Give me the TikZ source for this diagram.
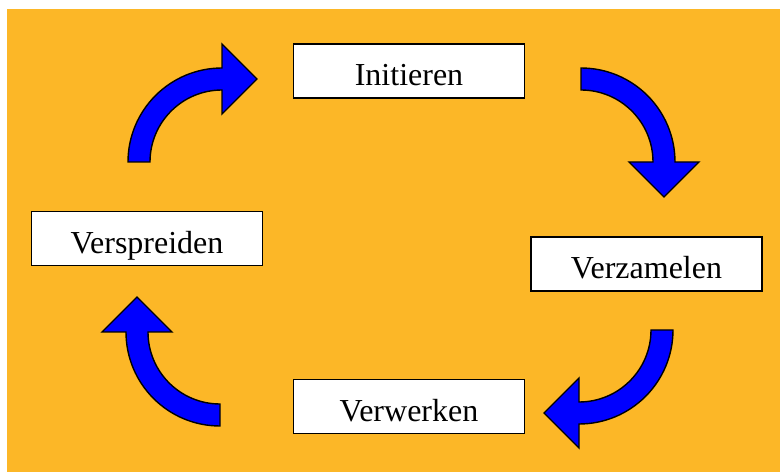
\documentclass[tikz,border=0pt]{standalone}
\usepackage{fontspec}
\setmainfont{Liberation Serif}
\usetikzlibrary{positioning}
\definecolor{CycleOrange}{RGB}{252,183,39}
\definecolor{CycleBlue}{RGB}{0,0,255}
\tikzset{
    stagebox/.style={rectangle, draw=black, fill=white, line width=1.6pt, minimum width=231pt, minimum height=54pt, inner sep=0pt, text height=29.5pt, text depth=0pt, font=\fontsize{32}{37}\selectfont},
    arrowbody/.style={fill=CycleBlue, draw=black, line width=1.4pt, line join=miter},
    % curved block arrow, drawn for the upper left quarter
    pics/turnarrow/.style={code={
        \filldraw[arrowbody] (180:94) arc[start angle=180, end angle=90, radius=94]
            -- (0,118) -- (35,83) -- (0,48) -- (0,72)
            arc[start angle=90, end angle=180, radius=72] -- cycle;
    }}
}
\begin{document}
\begin{tikzpicture}[x=1pt, y=1pt]

    % --- BACKGROUND ---
    \useasboundingbox (0,0) rectangle (780,472);
    \fill[white] (0,0) rectangle (780,472);
    \fill[CycleOrange] (7,0) rectangle (780,463);

    % --- STAGES ---
    \node[stagebox] (initieren) at (409,401) {Initieren};
    \node[stagebox] (verzamelen) at (646.5,208) {Verzamelen};
    \node[stagebox] (verwerken) at (409,65.5) {Verwerken};
    \node[stagebox] (verspreiden) at (147,233.5) {Verspreiden};

    % --- CYCLE ARROWS ---
    \pic at (222,310) {turnarrow};
    \pic[rotate=-90] at (581,310) {turnarrow};
    \pic[rotate=180] at (579,142) {turnarrow};
    \pic[rotate=90] at (220,140) {turnarrow};

\end{tikzpicture}
\end{document}
